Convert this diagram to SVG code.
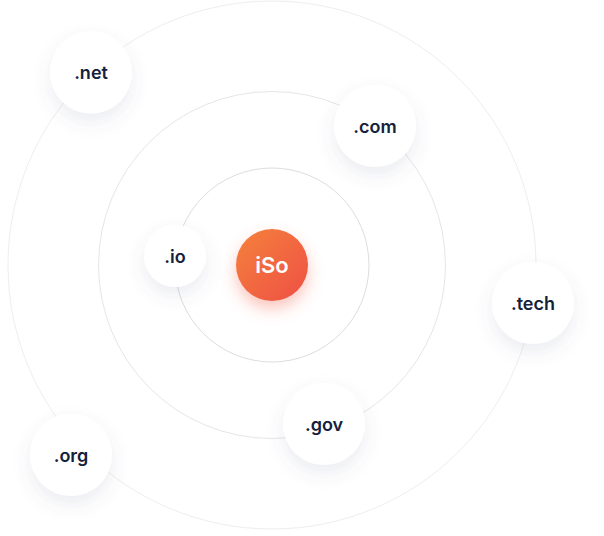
<svg xmlns="http://www.w3.org/2000/svg" width="604" height="536" viewBox="0 0 604 536">
  <defs>
    <linearGradient id="core" x1="0" y1="0" x2="1" y2="1">
      <stop offset="0" stop-color="#F5823C"/>
      <stop offset="1" stop-color="#EE4F45"/>
    </linearGradient>
    <filter id="shadow" x="-60%" y="-60%" width="220%" height="230%">
      <feDropShadow dx="0" dy="8" stdDeviation="9" flood-color="#5a6a8a" flood-opacity="0.12"/>
    </filter>
    <filter id="glow" x="-80%" y="-80%" width="260%" height="260%">
      <feDropShadow dx="0" dy="8" stdDeviation="8" flood-color="#F2583F" flood-opacity="0.35"/>
    </filter>
  </defs>
  <style>
    .ring { fill: none; stroke-width: 1; }
    .node { fill: #ffffff; filter: url(#shadow); }
    .label { font-family: Inter, "Noto Sans", "Liberation Sans", sans-serif; font-weight: 600; font-size: 18px; fill: #15213A; text-anchor: middle; }
    .core-label { font-family: Inter, "Noto Sans", "Liberation Sans", sans-serif; font-weight: 600; font-size: 22px; fill: #ffffff; text-anchor: middle; }
  </style>
  <rect width="604" height="536" fill="#ffffff"/>
  <g id="connectors">
    <circle class="ring" cx="272" cy="265" r="264" stroke="#EEEEEE"/>
    <circle class="ring" cx="272" cy="265" r="173.5" stroke="#E6E6E6"/>
    <circle class="ring" cx="272" cy="265" r="97" stroke="#DDDDDD"/>
  </g>
  <g id="node-iso">
    <circle cx="272" cy="265" r="36" fill="url(#core)" filter="url(#glow)"/>
    <text class="core-label" x="272" y="273">iSo</text>
  </g>
  <g id="node-net">
    <circle class="node" cx="91" cy="72.5" r="41"/>
    <text class="label" x="91" y="79">.net</text>
  </g>
  <g id="node-com">
    <circle class="node" cx="375" cy="126" r="41"/>
    <text class="label" x="375" y="132.5">.com</text>
  </g>
  <g id="node-io">
    <circle class="node" cx="175" cy="256" r="31"/>
    <text class="label" x="175" y="262.5">.io</text>
  </g>
  <g id="node-tech">
    <circle class="node" cx="533" cy="303" r="41"/>
    <text class="label" x="533" y="309.5">.tech</text>
  </g>
  <g id="node-gov">
    <circle class="node" cx="324" cy="424" r="41"/>
    <text class="label" x="324" y="430.5">.gov</text>
  </g>
  <g id="node-org">
    <circle class="node" cx="71" cy="455" r="41"/>
    <text class="label" x="71" y="461.5">.org</text>
  </g>
</svg>
